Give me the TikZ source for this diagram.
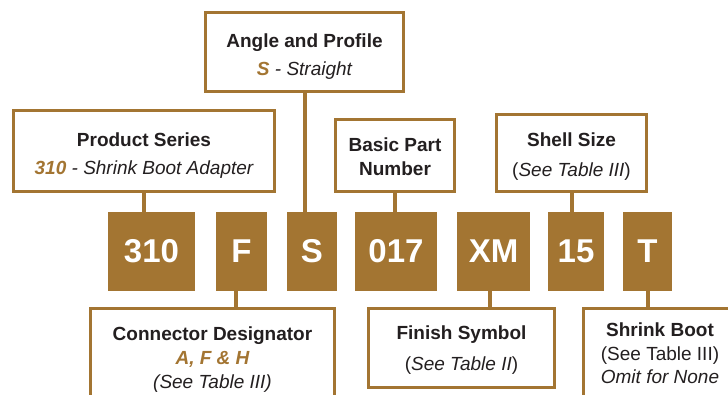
\documentclass[tikz,border=0pt]{standalone}
\usepackage{fontspec}
\setmainfont{Liberation Sans}
\usepackage{xcolor}
\usepackage{tikz}
\usetikzlibrary{positioning}
\definecolor{pnbrown}{RGB}{163,117,50}
\definecolor{pntext}{RGB}{35,31,32}
\newcommand{\codehl}[1]{\textcolor{pnbrown}{\bfseries\itshape #1}}
\newcommand{\topgap}[1]{\rule{0pt}{#1}}
\tikzset{
  infobox/.style={draw=pnbrown,line width=3pt,fill=white,inner sep=0pt,align=center,text=pntext,font=\fontsize{19}{27}\selectfont},
  codebox/.style={fill=pnbrown,inner sep=0pt,text=white,minimum height=79pt,font=\fontsize{33}{36}\selectfont\bfseries},
  link/.style={draw=pnbrown,line width=4pt},
}

\begin{document}
\begin{tikzpicture}[x=1pt,y=-1pt]
  \useasboundingbox (0,0) rectangle (728,395);
  \clip (0,0) rectangle (728,395);

  % part number codes
  \node[codebox,minimum width=87pt] (c310) at (151.5,251.5) {310};
  \node[codebox,minimum width=51pt] (cF) at (241.5,251.5) {F};
  \node[codebox,minimum width=50pt] (cS) at (312,251.5) {S};
  \node[codebox,minimum width=82pt] (c017) at (396,251.5) {017};
  \node[codebox,minimum width=73pt] (cXM) at (493.5,251.5) {XM};
  \node[codebox,minimum width=56pt] (c15) at (576,251.5) {15};
  \node[codebox,minimum width=49pt] (cT) at (647.5,251.5) {T};

  % boxes above
  \node[infobox,minimum width=198pt,minimum height=79pt,font=\fontsize{19}{28}\selectfont] (angle) at (304.5,52)
    {\topgap{22pt}\bfseries Angle and Profile\\\codehl{S} \itshape - Straight};
  \node[infobox,minimum width=261pt,minimum height=81pt,font=\fontsize{19}{28}\selectfont] (series) at (144,151)
    {\topgap{22pt}\bfseries Product Series\\\codehl{310} \itshape - Shrink Boot Adapter};
  \node[infobox,minimum width=119pt,minimum height=72pt,font=\fontsize{19}{24}\selectfont] (basic) at (395,155.5)
    {\topgap{16pt}\bfseries Basic Part\\\bfseries Number};
  \node[infobox,minimum width=150pt,minimum height=77pt,font=\fontsize{19}{30}\selectfont] (shell) at (571.5,153)
    {\topgap{20pt}\bfseries Shell Size\\(\textit{See Table III})};

  % boxes below
  \node[infobox,minimum width=244pt,minimum height=95pt,font=\fontsize{19}{24}\selectfont] (desig) at (212.5,356)
    {\topgap{20pt}\bfseries Connector Designator\\\codehl{A, F \& H}\\\itshape (See Table III)};
  \node[infobox,minimum width=186pt,minimum height=79pt,font=\fontsize{19}{31}\selectfont] (finish) at (461.5,348)
    {\topgap{18pt}\bfseries Finish Symbol\\(\textit{See Table II})};
  \node[infobox,minimum width=153pt,minimum height=90pt,font=\fontsize{19}{23.5}\selectfont] (boot) at (660,353.5)
    {\bfseries Shrink Boot\\(See Table III)\\\itshape Omit for None};

  \draw[link] (series.south) -- (series.south |- c310.north);
  \draw[link] (angle.south) -- (angle.south |- cS.north);
  \draw[link] (basic.south) -- (basic.south |- c017.north);
  \draw[link] (shell.south) -- (shell.south |- c15.north);
  \draw[link] ([xshift=-6pt]cF.south) -- ([xshift=-6pt]cF.south |- desig.north);
  \draw[link] ([xshift=-4pt]cXM.south) -- ([xshift=-4pt]cXM.south |- finish.north);
  \draw[link] (cT.south) -- (cT.south |- boot.north);
\end{tikzpicture}
\end{document}
